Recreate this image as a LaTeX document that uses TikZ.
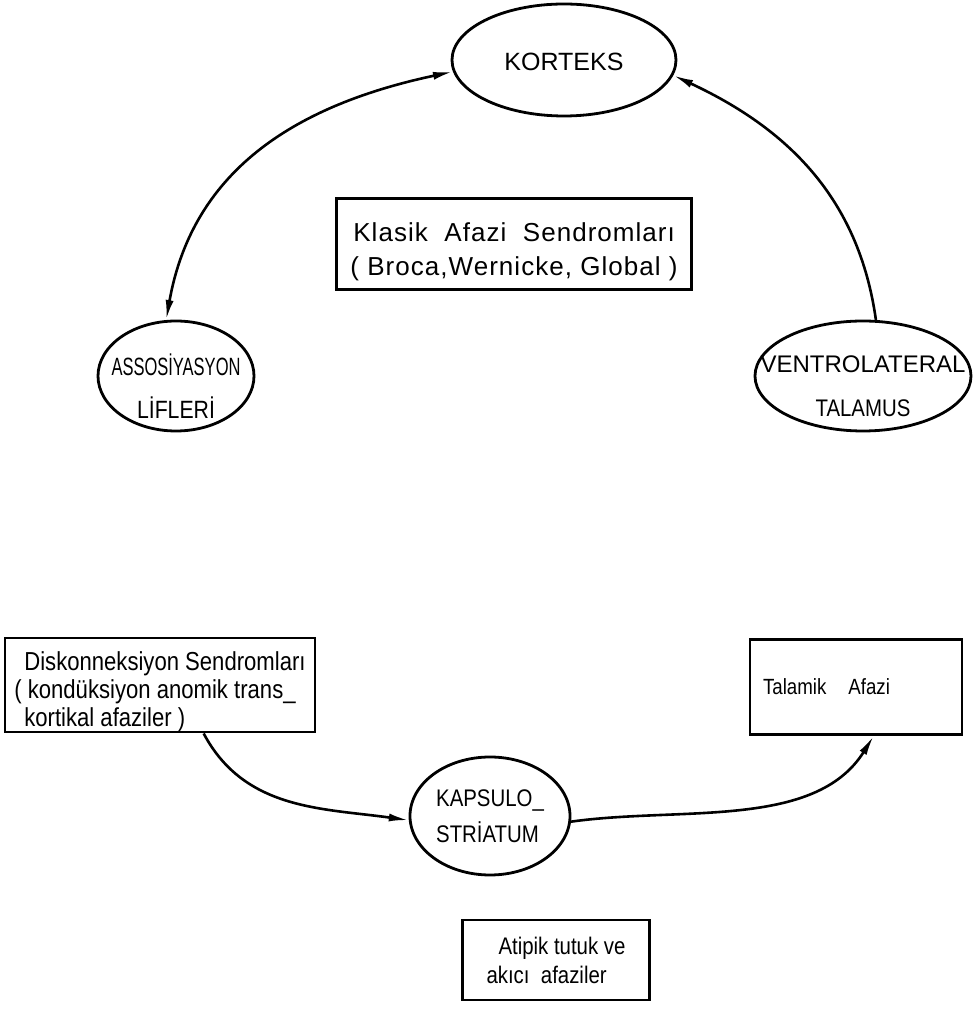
\documentclass[tikz,border=0pt]{standalone}
\usepackage{fontspec}
\setmainfont{Liberation Sans}
\newfontfamily\dar[FakeStretch=0.85]{Liberation Sans}
\newfontfamily\cokdar[FakeStretch=0.66]{Liberation Sans}
\newfontfamily\genis[LetterSpace=4]{Liberation Sans}
\usetikzlibrary{arrows.meta, shapes.geometric, positioning}

\begin{document}
\begin{tikzpicture}[
  x=0.5pt, y=0.5pt,
  >={Latex[length=10pt,width=4pt]},
  bolge/.style={draw, ellipse, line width=1.4pt, inner sep=0pt},
  yazi/.style={inner sep=0pt, align=center},
  sendrom/.style={draw, rectangle, line width=1.3pt, inner sep=0pt, align=left},
  yol/.style={line width=1.3pt}
  ]
  \useasboundingbox (0,0) rectangle (974,1013);
  % beyin bolgeleri
  \node[bolge, minimum width=112pt, minimum height=56pt] (kor) at (564,953) {};
  \node[bolge, minimum width=78pt, minimum height=55pt] (ass) at (176,637) {};
  \node[bolge, minimum width=108pt, minimum height=55pt] (vent) at (863,637) {};
  \node[bolge, minimum width=80pt, minimum height=59pt] (kap) at (490,197) {};
  \node[yazi, yshift=-1pt, font=\fontsize{12.5}{14}\selectfont] (kor-y) at (kor) {KORTEKS};
  \node[yazi, yshift=-5pt, font=\dar\fontsize{12.5}{21.5}\selectfont] (ass-y) at (ass) {{\cokdar ASSOSİYASYON}\\LİFLERİ};
  \node[yazi, yshift=-5pt, font=\fontsize{12}{22}\selectfont] (vent-y) at (vent) {VENTROLATERAL\\{\dar TALAMUS}};
  \node[yazi, align=left, font=\dar\fontsize{12}{18}\selectfont] (kap-y) at (kap) {KAPSULO\_\\STRİATUM};

  % sendromlar
  \node[sendrom, minimum width=177.5pt, minimum height=45.5pt, font=\genis\fontsize{13}{17}\selectfont] (klasik) at (514,769)
    {\rule{0pt}{17.5pt}\hspace*{1.5pt}Klasik\ \ Afazi\ \ Sendromları\\( Broca,Wernicke, Global )};
  \node[sendrom, minimum width=155pt, minimum height=45pt, font=\dar\fontsize{13}{14}\selectfont] (dis) at (160,328)
    {\rule{0pt}{16.5pt}\hspace*{5pt}Diskonneksiyon Sendromları\\( kondüksiyon anomik trans\_\\\hspace*{5pt}kortikal afaziler )};
  \node[sendrom, minimum width=106pt, minimum height=47.5pt, text width=93pt, inner xsep=6.5pt, font=\dar\fontsize{11}{14}\selectfont] (tal) at (856,326)
    {Talamik\ \ \ Afazi};
  \node[sendrom, minimum width=93.5pt, minimum height=40pt, font=\dar\fontsize{12}{14.5}\selectfont] (atip) at (556,53)
    {\hspace*{6pt}Atipik tutuk ve\\akıcı\ \ afaziler};

  % baglantilar
  \draw[yol,<->] (ass.100) to[out=80, in=192, looseness=1.05] (kor.186);
  \draw[yol,->] (vent.77) to[out=98, in=-25] (kor.352);
  \draw[yol,->] (dis.-48) to[out=-62, in=172] (kap.183);
  \draw[yol,->] (kap.-4) to[out=8, in=-122, looseness=0.9] (tal.-70);
\end{tikzpicture}
\end{document}
